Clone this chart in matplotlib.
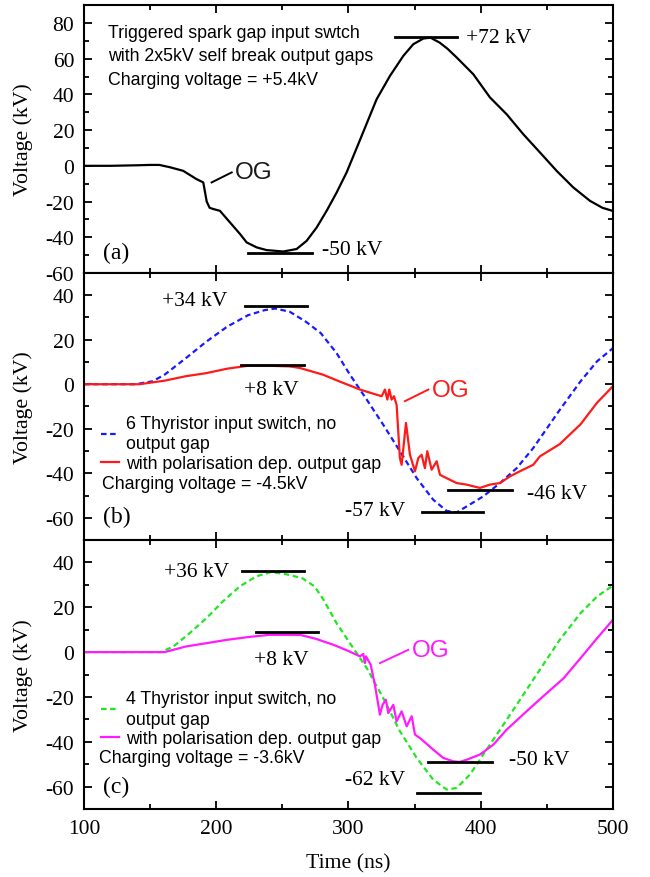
import matplotlib.pyplot as plt
from matplotlib.ticker import MultipleLocator

plt.rcParams['font.family'] = ['Liberation Serif', 'DejaVu Serif']
plt.rcParams['axes.unicode_minus'] = False

# ---- panel (a): triggered spark gap, black trace
t_a = [100, 120, 140, 150, 157, 165, 175, 185, 190.2, 192.8, 195, 197.8, 202.8, 210.4, 218,
       223, 230.6, 238.1, 250.7, 260.8, 268.4, 276, 283.5, 291.1, 298.6, 303, 309, 316, 321.3,
       331.4, 341.5, 349, 356.6, 362, 369, 375, 381.8, 394.4, 407, 419.6, 432.2, 444.8, 457.4,
       470, 482.6, 492, 500]
v_a = [0, 0, 0.3, 0.5, 0.5, -0.8, -2.8, -7.4, -9.3, -20, -23.5, -24.2, -25.2, -31.7, -38.2,
       -42.9, -45.7, -47.2, -48, -46.6, -42, -34.5, -25.2, -14.9, -3.7, 4.2, 15, 27.7, 37.3,
       50.4, 61.6, 68.1, 71.3, 71.8, 69, 65.5, 60.7, 51.3, 38.3, 28.9, 17.7, 7.5, -2.8,
       -12.1, -19.6, -23.5, -25.3]

# ---- panel (b): 6 thyristor switch
t_b_nog = [100, 139, 151.8, 161, 177, 192.7, 208.4, 224, 236.7, 244.5, 255.5, 268, 279, 291,
           301.1, 313.8, 326.3, 338.9, 351.6, 364.1, 374.2, 381.8, 389.4, 401.9, 414.6, 427.2,
           439.7, 459.8, 475.5, 488, 500]
v_b_nog = [0, 0, 1.3, 4.3, 11.7, 19.2, 25.9, 31, 33.3, 34, 32.6, 28, 23, 14,
           4.3, -6.9, -18.2, -30.1, -42.2, -51.9, -56.9, -57.6, -54.9, -50.4, -44.4, -37.7,
           -28.7, -11.5, 1.3, 10.3, 16.2]
t_b_og = [100, 142, 161, 177, 192.7, 208.4, 224, 240, 255.5, 263.3, 280.7, 293, 308.7, 325.1,
          327.6, 329.4, 330.9, 332.6, 334.4, 336.4, 338.9, 340.2, 343.5, 346.5, 350.3, 352.8,
          355.3, 357.8, 359.6, 362.9, 366.7, 369.2, 374.2, 381.8, 389.3, 399.4, 407, 414.6,
          422.1, 429.7, 439.7, 444.8, 459.8, 475.5, 488, 500]
v_b_og = [0, 0, 1.6, 3.6, 5, 7, 8.3, 8.3, 8, 7.3, 4.3, 1.3, -2.4, -5.4,
          -2.4, -6.9, -2.4, -6.9, -5.4, -9.2, -33.2, -36.2, -17.4, -31.7, -39.1, -33.2,
          -31.7, -37.7, -30.1, -38.4, -34.6, -40.7, -42.2, -44.4, -45.1, -46.6, -45.1, -44.4,
          -41.4, -39.1, -36.2, -32.4, -26.9, -18, -8.3, -0.9]

# ---- panel (c): 4 thyristor switch
t_c_nog = [100, 158, 167.6, 180, 192.7, 205, 217.8, 230.4, 241.4, 252.4, 265, 274.4, 281,
           291, 303.6, 313.8, 326.3, 338.9, 351.6, 364.1, 374.2, 381.8, 391.9, 401.9, 414.6,
           427.2, 439.7, 459.8, 475.5, 488, 500]
v_c_nog = [0, 0, 2.5, 8.5, 15.2, 22.6, 29.3, 33.8, 35.7, 34.8, 33, 29.3, 23.5,
           12.9, 1.8, -7.1, -20.5, -35.3, -47.2, -56.9, -61.3, -60.6, -54.6, -45.7, -34.6,
           -23.5, -12.3, 5.5, 17.4, 24.8, 29.7]
t_c_og = [100, 161, 177, 192.7, 208.4, 224, 240, 255.5, 263.3, 275, 288.5, 300, 308.7, 311.2,
          312.4, 313.2, 316.8, 320, 323.8, 325.8, 328.3, 330.1, 333.9, 336.4, 340.2, 344,
          347.8, 350.3, 354, 364.1, 371.7, 379.2, 384, 389.4, 399.4, 409.5, 419.6, 434.7,
          444.8, 462.8, 475.5, 488, 500]
v_c_og = [0, 0, 2.5, 4, 5.5, 6.7, 7.7, 7.7, 7.7, 6, 3.3, 0.5, -1.9, -0.8,
          -4.9, -1.9, -5.6, -14.6, -27.9, -23.5, -21.2, -27.2, -23.5, -30.9, -26.4, -33.1,
          -28.6, -36.8, -38.3, -43.5, -47.2, -48.7, -49, -48, -45.7, -41.3, -34.6, -26.4,
          -21, -11.6, -2.7, 6.2, 14.4]

fig = plt.figure(figsize=(6.5, 8.78), dpi=100)
ax_a = fig.add_axes([0.1292, 0.688, 0.8138, 0.305])
ax_b = fig.add_axes([0.1292, 0.3838, 0.8138, 0.3042], sharex=ax_a)
ax_c = fig.add_axes([0.1292, 0.0774, 0.8138, 0.3064], sharex=ax_a)

sans = ['Liberation Sans', 'DejaVu Sans']
note_size = 12.8
kv_size = 15.5


def style(ax, ylim, yticks):
    ax.set_xlim(100, 500)
    ax.set_ylim(*ylim)
    ax.set_yticks(yticks)
    ax.xaxis.set_major_locator(MultipleLocator(100))
    ax.xaxis.set_minor_locator(MultipleLocator(50))
    ax.yaxis.set_minor_locator(MultipleLocator(10))
    ax.tick_params(which='both', direction='in', top=True, right=True, labelsize=15.5, pad=7)
    ax.tick_params(which='major', length=6, width=1.3)
    ax.tick_params(which='minor', length=3.5, width=1.3)
    for s in ax.spines.values():
        s.set_linewidth(1.5)
    ax.set_ylabel('Voltage (kV)', fontsize=15.7)
    ax.yaxis.set_label_coords(-0.096, 0.5)


def level(ax, y, x0, x1):
    ax.plot([x0, x1], [y, y], color='black', lw=2)


# panel (a)
ax_a.plot(t_a, v_a, color='black', lw=1.6)
style(ax_a, (-60, 90), range(-60, 81, 20))
ax_a.tick_params(labelbottom=False)
ax_a.text(114.4, -48.3, '(a)', fontsize=17, va='center')
ax_a.text(118, 74.7, 'Triggered spark gap input swtch', family=sans, fontsize=note_size, va='center')
ax_a.text(118, 61.6, 'with 2x5kV self break output gaps', family=sans, fontsize=note_size, va='center')
ax_a.text(118, 48.5, 'Charging voltage = +5.4kV', family=sans, fontsize=note_size, va='center')
level(ax_a, 71.9, 335.2, 381.8)
ax_a.text(389, 72, '+72 kV', fontsize=kv_size, va='center')
level(ax_a, -48.9, 224.3, 272.2)
ax_a.text(279.7, -46.6, '-50 kV', fontsize=kv_size, va='center')
ax_a.plot([196.5, 211.7], [-9.3, -3.7], color='black', lw=1.4)
ax_a.text(214.2, -3.7, 'OG', family=sans, fontsize=17.5, va='center', color='#1a1a1a')

# panel (b)
ax_b.plot(t_b_nog, v_b_nog, color='#1a1aff', lw=1.6, ls=(0, (2.5, 1.6)),
          label='6 Thyristor input switch, no\noutput gap')
ax_b.plot(t_b_og, v_b_og, color='#ff1a1a', lw=1.6, label='with polarisation dep. output gap')
style(ax_b, (-70, 50), range(-60, 41, 20))
ax_b.tick_params(labelbottom=False)
ax_b.text(114.4, -59.4, '(b)', fontsize=17, va='center')
level(ax_b, 35.1, 222, 269)
ax_b.text(208.4, 37.6, '+34 kV', fontsize=kv_size, va='center', ha='right')
level(ax_b, 8.8, 219, 266)
ax_b.text(241.4, -2.4, '+8 kV', fontsize=kv_size, va='center', ha='center')
ax_b.plot([342.7, 360.4], [-7.6, -2.4], color='#ff1a1a', lw=1.4)
ax_b.text(362.9, -2.4, 'OG', family=sans, fontsize=17.5, va='center', color='#ff1a1a')
level(ax_b, -47.4, 375.5, 423.4)
ax_b.text(434.7, -48.9, '-46 kV', fontsize=kv_size, va='center')
level(ax_b, -57.6, 355.3, 402)
ax_b.text(342.7, -56.7, '-57 kV', fontsize=kv_size, va='center', ha='right')
leg_b = ax_b.legend(loc='upper left', bbox_to_anchor=(0.0, 0.53), frameon=False,
                    prop={'family': sans, 'size': note_size}, handlelength=1.05,
                    handletextpad=0.35, labelspacing=0.15, borderaxespad=0.54)
for txt in leg_b.get_texts():
    txt.set_linespacing(1.25)
ax_b.text(113.5, -44.8, 'Charging voltage = -4.5kV', family=sans, fontsize=note_size, va='center')

# panel (c)
ax_c.plot(t_c_nog, v_c_nog, color='#22e622', lw=1.6, ls=(0, (2.5, 1.6)),
          label='4 Thyristor input switch, no\noutput gap')
ax_c.plot(t_c_og, v_c_og, color='#ff1aff', lw=1.6, label='with polarisation dep. output gap')
style(ax_c, (-70, 50), range(-60, 41, 20))
ax_c.text(114.4, -59.8, '(c)', fontsize=17, va='center')
level(ax_c, 36.2, 219.4, 266.5)
ax_c.text(210, 35.9, '+36 kV', fontsize=kv_size, va='center', ha='right')
level(ax_c, 8.9, 229.8, 277)
ax_c.text(249.3, -3.4, '+8 kV', fontsize=kv_size, va='center', ha='center')
ax_c.plot([323.8, 345.2], [-4.9, 1], color='#ff1aff', lw=1.4)
ax_c.text(347.8, 1, 'OG', family=sans, fontsize=17.5, va='center', color='#ff1aff')
level(ax_c, -49.1, 360.4, 408.3)
ax_c.text(421.4, -48, '-50 kV', fontsize=kv_size, va='center')
level(ax_c, -62.8, 352, 399.4)
ax_c.text(342.7, -56.9, '-62 kV', fontsize=kv_size, va='center', ha='right')
leg_c = ax_c.legend(loc='upper left', bbox_to_anchor=(0.0, 0.503), frameon=False,
                    prop={'family': sans, 'size': note_size}, handlelength=1.05,
                    handletextpad=0.35, labelspacing=0.15, borderaxespad=0.54)
for txt in leg_c.get_texts():
    txt.set_linespacing(1.25)
ax_c.text(111, -46.9, 'Charging voltage = -3.6kV', family=sans, fontsize=note_size, va='center')
ax_c.set_xlabel('Time (ns)', fontsize=15.7, labelpad=11)

fig.savefig('out.png', dpi=100)
